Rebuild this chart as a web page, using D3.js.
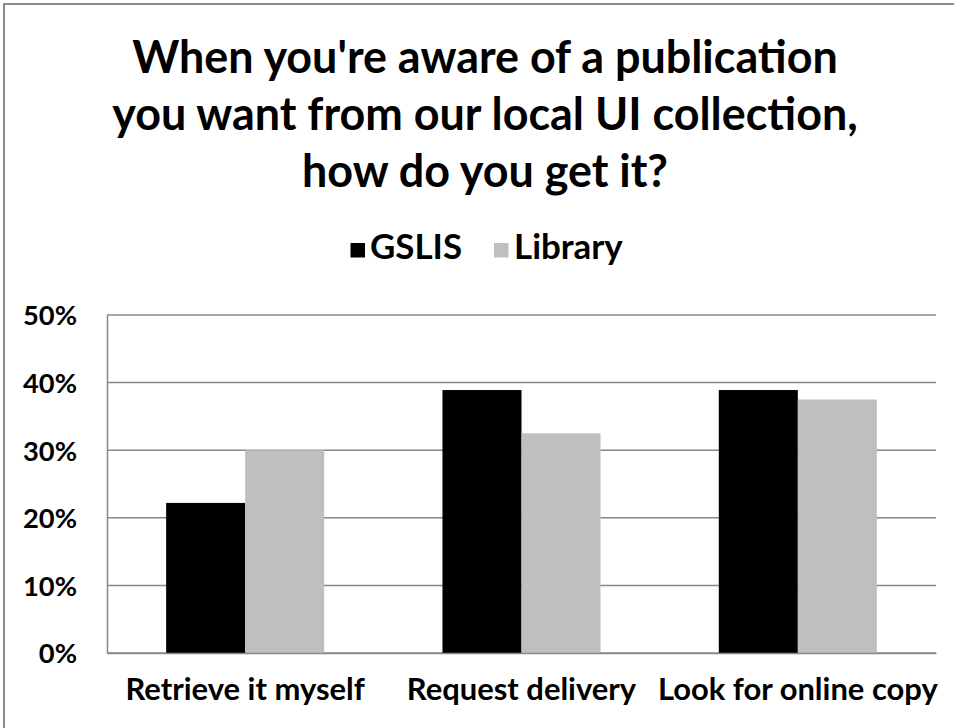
<!DOCTYPE html>
<html>
<head>
<meta charset="utf-8">
<script src="https://cdn.jsdelivr.net/npm/d3@7"></script>
<style>
  html, body { margin: 0; padding: 0; background: #fff; }
  svg { display: block; }
  text { font-family: Lato, "Open Sans", sans-serif; font-weight: bold; fill: #000; }
</style>
</head>
<body>
<svg id="chart" width="954" height="728"></svg>
<script>
const titleLines = ["When you're aware of a publication", "you want from our local UI collection,", "how do you get it?"];
const categories = ["Retrieve it myself", "Request delivery", "Look for online copy"];
const seriesNames = ["GSLIS", "Library"];
const gslisValues = [0.222, 0.389, 0.389];
const libraryValues = [0.30, 0.325, 0.375];
const yTickValues = [0, 0.1, 0.2, 0.3, 0.4, 0.5];
const seriesColors = ["#000000", "#bfbfbf"];

const svg = d3.select("#chart");
const plot = { left: 107, right: 936, top: 315, bottom: 653 };

// font size that makes the given strings (together) match a target total width
function fitSize(strings, targetTotal) {
  const t = svg.append("text").attr("font-size", 100);
  let total = 0;
  strings.forEach(s => { t.text(s); total += t.node().getComputedTextLength(); });
  t.remove();
  return 100 * targetTotal / total;
}

// outer chart border (right/bottom cropped in reference)
svg.append("rect").attr("x", 4).attr("y", 4).attr("width", 1000).attr("height", 1000)
  .attr("fill", "#fff").attr("stroke", "#8c8c8c").attr("stroke-width", 2);

// Title
const titleCenter = 485;
const titleBaselines = [73, 129.5, 186.5];
const titleSize = fitSize(titleLines, 706 + 744 + 368);
svg.append("g").selectAll("text").data(titleLines).join("text")
  .attr("x", titleCenter).attr("y", (d, i) => titleBaselines[i])
  .attr("text-anchor", "middle").attr("font-size", titleSize).text(d => d);

// scales
const x0 = d3.scaleBand().domain(categories).range([plot.left, plot.right])
  .paddingInner(0.428).paddingOuter(0.214);
const x1 = d3.scaleBand().domain(seriesNames).range([0, x0.bandwidth()]).padding(0);
const y = d3.scaleLinear().domain([0, 0.5]).range([plot.bottom, plot.top]);
const color = d3.scaleOrdinal().domain(seriesNames).range(seriesColors);

// gridlines
svg.append("g").selectAll("line").data(yTickValues).join("line")
  .attr("x1", plot.left).attr("x2", plot.right)
  .attr("y1", d => y(d)).attr("y2", d => y(d))
  .attr("stroke", "#888").attr("stroke-width", 1.5);

// y axis
const yTickSize = fitSize(["50%"], 54);
const yAxis = d3.axisLeft(y).tickValues(yTickValues).tickSize(0).tickPadding(30)
  .tickFormat(d3.format(".0%"));
const gy = svg.append("g").attr("transform", `translate(${plot.left},0)`).call(yAxis);
gy.select(".domain").attr("stroke", "#888").attr("stroke-width", 1.5);
gy.selectAll("text").attr("font-size", yTickSize).attr("font-family", null).attr("fill", "#000")
  .attr("dy", "0.36em");

// bars
const rows = categories.map((c, i) => ({ cat: c, values: [gslisValues[i], libraryValues[i]] }));
const groups = svg.append("g").selectAll("g").data(rows).join("g")
  .attr("transform", d => `translate(${x0(d.cat)},0)`);
groups.selectAll("rect").data(d => seriesNames.map((s, j) => ({ s, v: d.values[j] }))).join("rect")
  .attr("x", d => x1(d.s)).attr("width", x1.bandwidth())
  .attr("y", d => y(d.v)).attr("height", d => y(0) - y(d.v))
  .attr("fill", d => color(d.s));

// baseline axis
const xLabelSize = fitSize(categories, 235 + 220 + 294);
const xAxis = d3.axisBottom(x0).tickSize(0);
const gx = svg.append("g").attr("transform", `translate(0,${plot.bottom})`).call(xAxis);
gx.select(".domain").attr("stroke", "#888").attr("stroke-width", 1.5);
gx.selectAll("text").attr("font-size", xLabelSize).attr("font-family", null).attr("fill", "#000")
  .attr("dy", null).attr("y", 47);

// legend
const legendSize = fitSize(seriesNames, 88 + 113);
const legendItems = [
  { name: "GSLIS", sx: 350.5, tx: 370 },
  { name: "Library", sx: 494, tx: 514 }
];
const lg = svg.append("g").selectAll("g").data(legendItems).join("g");
lg.append("rect").attr("x", d => d.sx).attr("y", 243).attr("width", 14.5).attr("height", 14.5)
  .attr("fill", d => color(d.name));
lg.append("text").attr("x", d => d.tx).attr("y", 258.5).attr("font-size", legendSize).text(d => d.name);
</script>
</body>
</html>
